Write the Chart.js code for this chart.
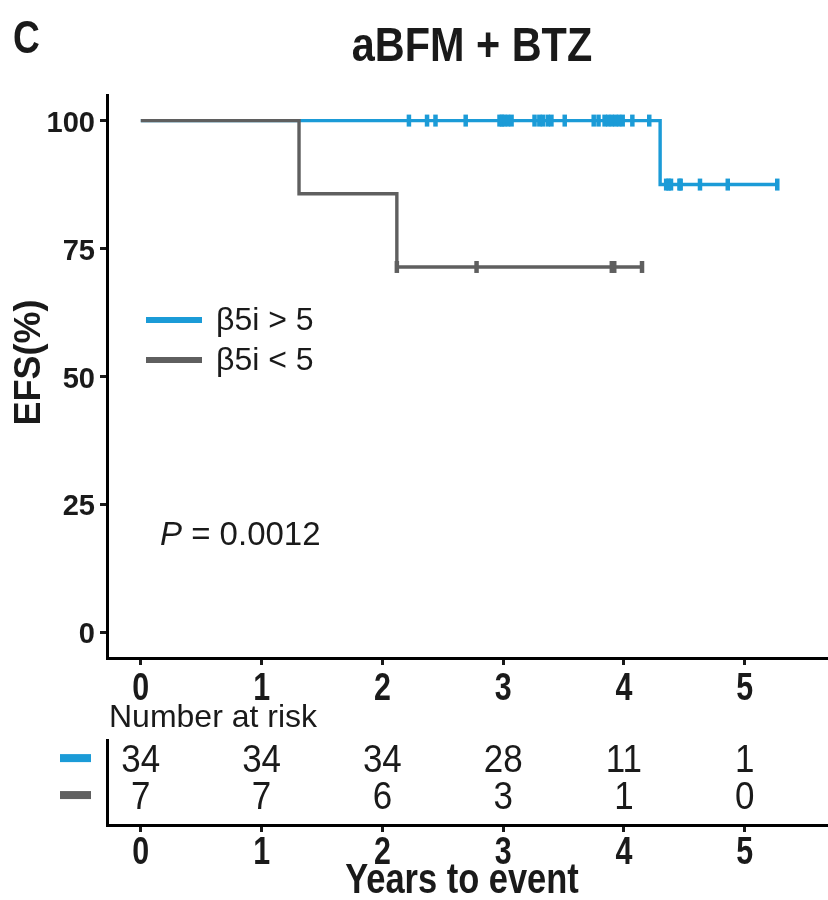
<!DOCTYPE html>
<html>
<head>
<meta charset="utf-8">
<script src="https://cdn.jsdelivr.net/npm/chart.js@4.4.1/dist/chart.umd.min.js"></script>
<style>
  html, body { margin: 0; padding: 0; background: #ffffff; }
  #wrap { position: relative; width: 828px; height: 900px; }
  canvas { position: absolute; left: 0; top: 0; }
</style>
</head>
<body>
<div id="wrap">
  <canvas id="km" width="828" height="900"></canvas>
  <canvas id="risk" width="828" height="900"></canvas>
</div>
<script>
// ---------- data ----------
const titleText = "aBFM + BTZ";
const panelLetter = "C";
const seriesNames = ["β5i > 5", "β5i < 5"];
const seriesColors = ["#1b9bd7", "#5f5f5f"];

// Kaplan-Meier steps (years, EFS %)
const blueTimes = [0, 4.30, 5.27];
const blueSurv  = [100, 87.5, 87.5];
const grayTimes = [0, 1.31, 2.12, 4.15];
const graySurv  = [100, 85.7, 71.4, 71.4];

// censoring marks
const blueCensorT = [2.22, 2.37, 2.44, 2.69, 2.97, 2.99, 3.01, 3.04, 3.07, 3.26, 3.30, 3.33, 3.37, 3.40, 3.51, 3.75, 3.79, 3.84, 3.87, 3.90, 3.93, 3.96, 3.99, 4.07, 4.21, 4.35, 4.37, 4.39, 4.46, 4.47, 4.63, 4.86, 5.27];
const blueCensorS = [100, 100, 100, 100, 100, 100, 100, 100, 100, 100, 100, 100, 100, 100, 100, 100, 100, 100, 100, 100, 100, 100, 100, 100, 100, 87.5, 87.5, 87.5, 87.5, 87.5, 87.5, 87.5, 87.5];
const grayCensorT = [2.12, 2.78, 3.90, 3.92, 4.15];
const grayCensorS = [71.4, 71.4, 71.4, 71.4, 71.4];

const xTicks = [0, 1, 2, 3, 4, 5];
const yTicks = [0, 25, 50, 75, 100];
const pValueText = "0.0012";

// number at risk table
const riskTimes = [0, 1, 2, 3, 4, 5];
const riskBlue  = [34, 34, 34, 28, 11, 1];
const riskGray  = [7, 7, 6, 3, 1, 0];
const riskRows  = [2, 1]; // row positions: blue, gray

// ---------- helpers ----------
const SANS = '"Liberation Sans", Arial, sans-serif';
const INK = "#1a1a1a";
const X_MIN = -0.28, X_MAX = 5.69;

function pts(xs, ys) { return xs.map((x, i) => ({ x: x, y: ys[i] })); }

// draw text, optionally condensed horizontally (sx < 1)
function txt(ctx, s, x, y, font, align, sx, baseline) {
  ctx.save();
  ctx.translate(x, y);
  ctx.scale(sx || 1, 1);
  ctx.font = font;
  ctx.textAlign = align || "left";
  ctx.textBaseline = baseline || "alphabetic";
  ctx.fillText(s, 0, 0);
  ctx.restore();
}

function xTickLabels(ctx, scale, baselineY) {
  ctx.fillStyle = INK;
  scale.ticks.forEach(t => {
    txt(ctx, String(t.value), scale.getPixelForValue(t.value), baselineY, "bold 38px " + SANS, "center", 0.8);
  });
}

function axisCommon(ticksArr) {
  return {
    type: "linear",
    afterBuildTicks: s => { s.ticks = ticksArr.map(v => ({ value: v })); },
    grid: { display: true, drawOnChartArea: false, drawTicks: true, tickLength: 7, tickWidth: 3, tickColor: INK },
    border: { display: true, width: 3, color: "#000" },
    ticks: { display: false }
  };
}

// ---------- main KM chart ----------
const kmExtras = {
  id: "kmExtras",
  afterDraw(chart) {
    const ctx = chart.ctx;
    const area = chart.chartArea;
    ctx.save();
    ctx.fillStyle = INK;
    // panel letter and title
    txt(ctx, panelLetter, 13, 53, "bold 47px " + SANS, "left", 0.79);
    txt(ctx, titleText, 472, 61, "bold 49px " + SANS, "center", 0.845);
    // x tick labels
    xTickLabels(ctx, chart.scales.x, 700);
    // y tick labels
    const ys = chart.scales.y;
    ys.ticks.forEach(t => {
      txt(ctx, String(t.value), 95, ys.getPixelForValue(t.value) + 11, "bold 30px " + SANS, "right", 0.97);
    });
    // y title
    ctx.save();
    ctx.translate(30, (area.top + area.bottom) / 2 - 14);
    ctx.rotate(-Math.PI / 2);
    ctx.font = "bold 36px " + SANS;
    ctx.textAlign = "center"; ctx.textBaseline = "middle";
    ctx.fillText("EFS(%)", 0, 0);
    ctx.restore();
    // legend
    const legY = [320, 360];
    for (let i = 0; i < 2; i++) {
      ctx.strokeStyle = seriesColors[i];
      ctx.lineWidth = 6;
      ctx.beginPath(); ctx.moveTo(146, legY[i]); ctx.lineTo(202, legY[i]); ctx.stroke();
      ctx.fillStyle = INK;
      txt(ctx, seriesNames[i], 216, legY[i] + 1, "32px " + SANS, "left", 1, "middle");
    }
    // p value
    ctx.font = "italic 33px " + SANS;
    const pw = ctx.measureText("P").width;
    txt(ctx, "P", 160, 536, "italic 33px " + SANS, "left", 1, "middle");
    txt(ctx, " = " + pValueText, 160 + pw, 536, "33px " + SANS, "left", 1, "middle");
    ctx.restore();
  }
};

const kmX = axisCommon(xTicks);
kmX.min = X_MIN; kmX.max = X_MAX;
kmX.afterFit = s => { s.height = 242; };
const kmY = axisCommon(yTicks);
kmY.min = -5; kmY.max = 105;
kmY.afterFit = s => { s.width = 107; };

function censorSet(label, xs, ys, color) {
  return {
    label: label, data: pts(xs, ys), showLine: false,
    pointStyle: "line", rotation: 90, pointRadius: 6, pointHoverRadius: 6,
    borderColor: color, backgroundColor: color, pointBorderWidth: 4.5
  };
}

new Chart(document.getElementById("km"), {
  type: "scatter",
  data: {
    datasets: [
      { label: seriesNames[1], data: pts(grayTimes, graySurv), showLine: true, stepped: "before",
        borderColor: seriesColors[1], borderWidth: 3.4, pointRadius: 0, fill: false },
      censorSet(seriesNames[1] + " censored", grayCensorT, grayCensorS, seriesColors[1]),
      { label: seriesNames[0], data: pts(blueTimes, blueSurv), showLine: true, stepped: "before",
        borderColor: seriesColors[0], borderWidth: 3.4, pointRadius: 0, fill: false },
      censorSet(seriesNames[0] + " censored", blueCensorT, blueCensorS, seriesColors[0])
    ]
  },
  options: {
    responsive: false, animation: false, devicePixelRatio: 1,
    layout: { autoPadding: false, padding: { top: 95, left: 0, right: 0, bottom: 0 } },
    plugins: { legend: { display: false }, tooltip: { enabled: false }, title: { display: false } },
    scales: { x: kmX, y: kmY }
  },
  plugins: [kmExtras]
});

// ---------- risk table chart ----------
const riskExtras = {
  id: "riskExtras",
  afterDraw(chart) {
    const ctx = chart.ctx;
    const xs = chart.scales.x, ys = chart.scales.y;
    const area = chart.chartArea;
    ctx.save();
    ctx.fillStyle = INK;
    txt(ctx, "Number at risk", 109, area.top - 22, "32px " + SANS, "left", 1, "middle");
    const rows = [riskBlue, riskGray];
    for (let r = 0; r < 2; r++) {
      const py = ys.getPixelForValue(riskRows[r]);
      for (let i = 0; i < riskTimes.length; i++) {
        txt(ctx, String(rows[r][i]), xs.getPixelForValue(riskTimes[i]), py + 14, "38px " + SANS, "center", 0.92);
      }
      ctx.fillStyle = seriesColors[r];
      ctx.fillRect(60, py - 4, 31, 8);
      ctx.fillStyle = INK;
    }
    // x tick labels and axis title
    xTickLabels(ctx, xs, 864);
    txt(ctx, "Years to event", 462, 893, "bold 42px " + SANS, "center", 0.82);
    ctx.restore();
  }
};

const rkX = axisCommon(xTicks);
rkX.min = X_MIN; rkX.max = X_MAX;
rkX.afterFit = s => { s.height = 75; };
const rkY = {
  type: "linear", min: 0.19, max: 2.49,
  afterBuildTicks: s => { s.ticks = riskRows.map(v => ({ value: v })); },
  grid: { display: false },
  border: { display: true, width: 3, color: "#000" },
  ticks: { display: false },
  afterFit: s => { s.width = 107; }
};

new Chart(document.getElementById("risk"), {
  type: "scatter",
  data: { datasets: [] },
  options: {
    responsive: false, animation: false, devicePixelRatio: 1,
    layout: { autoPadding: false, padding: { top: 740, left: 0, right: 0, bottom: 0 } },
    plugins: { legend: { display: false }, tooltip: { enabled: false } },
    scales: { x: rkX, y: rkY }
  },
  plugins: [riskExtras]
});
</script>
</body>
</html>
